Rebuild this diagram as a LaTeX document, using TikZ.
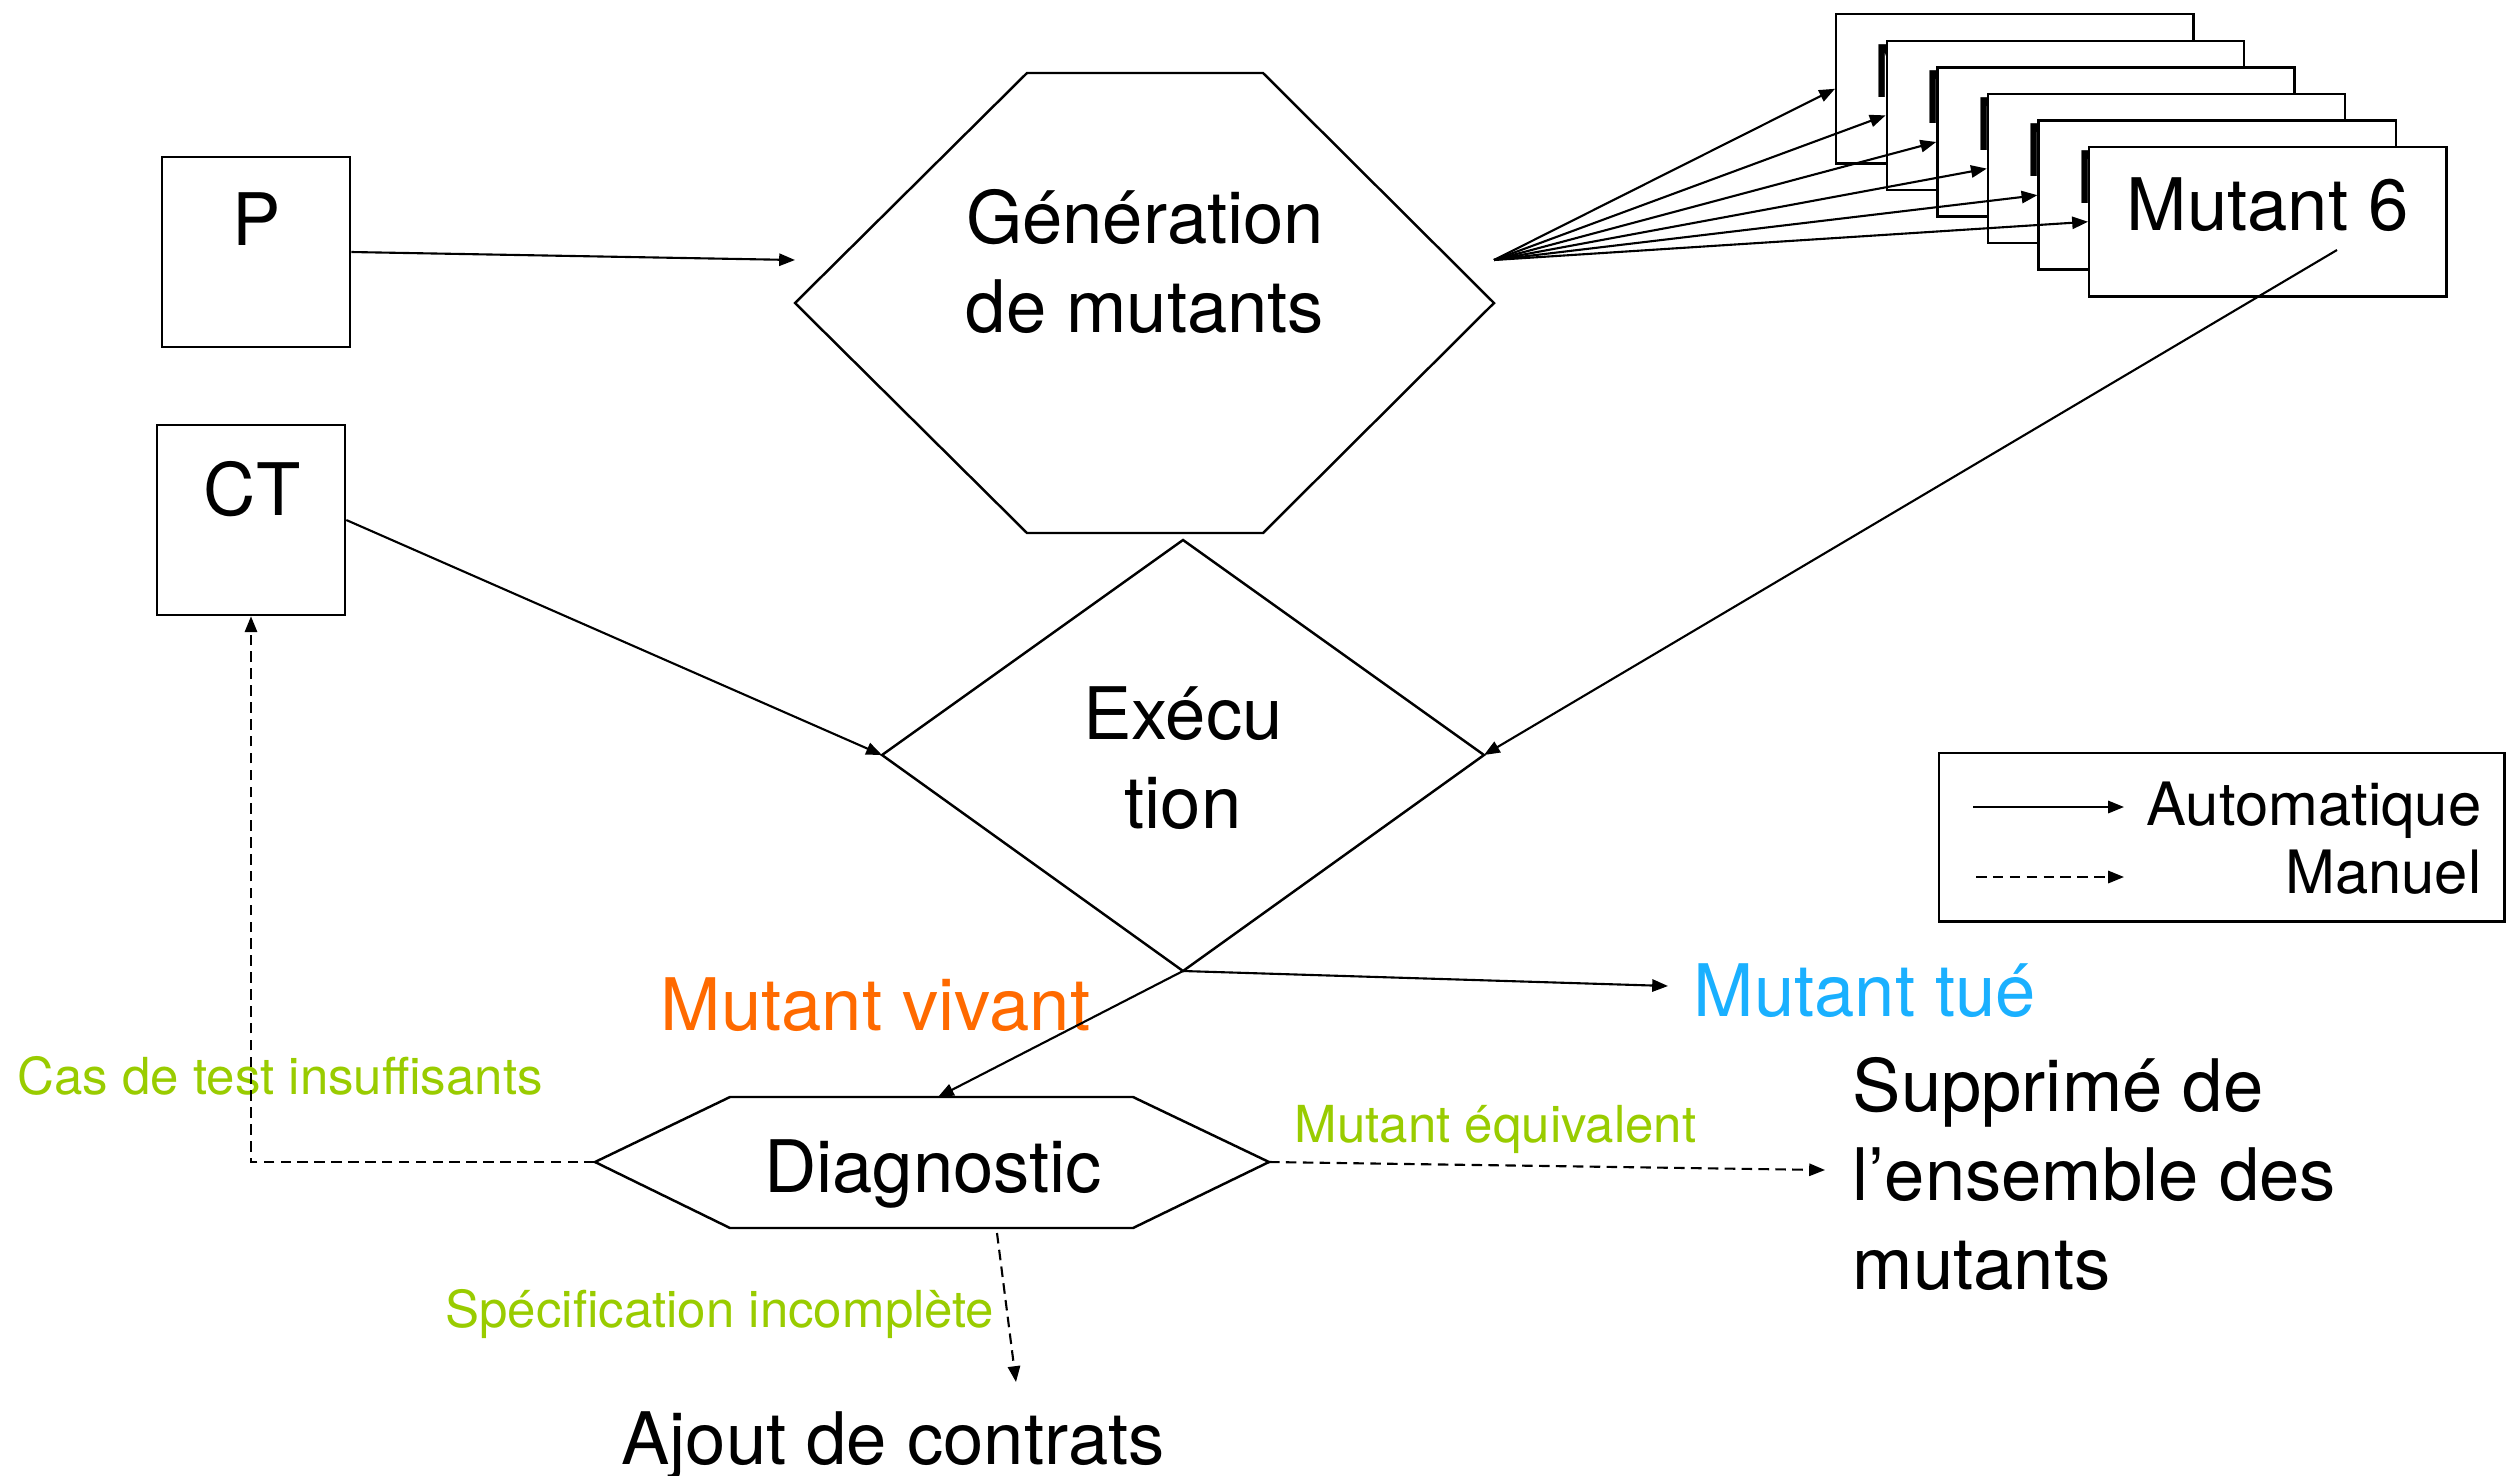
\documentclass[tikz,border=0pt]{standalone}
\usepackage{fontspec}
\setmainfont{TeX Gyre Heros}
\usetikzlibrary{arrows.meta}
\definecolor{vivant}{HTML}{FF6A00}
\definecolor{tue}{HTML}{1AB0FF}
\definecolor{diag}{HTML}{99CC00}

\begin{document}
\begin{tikzpicture}[x=0.01cm,y=-0.01cm,
  box/.style={draw,line width=0.7pt,fill=white,inner sep=0pt},
  lbl/.style={inner sep=0pt,font=\fontsize{20.6}{25.3}\selectfont},
  small/.style={inner sep=0pt,font=\fontsize{14.5}{17}\selectfont,text=diag},
  leg/.style={inner sep=0pt,font=\fontsize{17}{20}\selectfont},
  autoarrow/.style={line width=0.6pt,-{Triangle[length=4.5pt,width=3.5pt]}},
  manarrow/.style={autoarrow,dash pattern=on 3pt off 1.8pt},
  outline/.style={draw,line width=0.7pt}]

\useasboundingbox (0,0) rectangle (2517,1475);

% Inputs
\node[box,minimum width=1.88cm,minimum height=1.90cm] (p) at (256,252) {};
\node[lbl,anchor=base] (ptext) at (257,245) {P};
\node[box,minimum width=1.88cm,minimum height=1.90cm] (ct) at (251,520) {};
\node[lbl,anchor=base] (cttext) at (252,515) {CT};

% Generation hexagon
\coordinate (g1) at (795,303);
\coordinate (g2) at (1027,73);
\coordinate (g3) at (1263,73);
\coordinate (g4) at (1494,303);
\coordinate (g5) at (1263,533);
\coordinate (g6) at (1027,533);
\draw[outline] (g1) -- (g2) -- (g3) -- (g4) -- (g5) -- (g6) -- cycle;
\node[lbl,align=center,anchor=base] (gen) at (1145,332) {Génération\\de mutants};
\coordinate (genin) at (795,260);
\coordinate (genout) at (1494,260);

% Execution diamond
\coordinate (e1) at (1183,540);
\coordinate (e2) at (1484,755);
\coordinate (e3) at (1183,971);
\coordinate (e4) at (882,755);
\draw[outline] (e1) -- (e2) -- (e3) -- (e4) -- cycle;
\node[lbl,align=center,anchor=base] (exec) at (1183,828) {Exécu\\tion};

% Diagnostic hexagon
\coordinate (d1) at (595,1162);
\coordinate (d2) at (730,1097);
\coordinate (d3) at (1133,1097);
\coordinate (d4) at (1269,1162);
\coordinate (d5) at (1133,1228);
\coordinate (d6) at (730,1228);
\draw[outline] (d1) -- (d2) -- (d3) -- (d4) -- (d5) -- (d6) -- cycle;
\node[lbl,anchor=base] (diagtext) at (933,1192) {Diagnostic};
\coordinate (dtop) at (938,1097);
\coordinate (dbot) at (997,1233);

% Mutants
\foreach \i in {1,...,6} {
  \pgfmathsetmacro\mx{1835+(\i-1)*50.6}
  \pgfmathsetmacro\my{13+(\i-1)*26.6}
  \node[box,minimum width=3.57cm,minimum height=1.49cm,anchor=north west] (m\i) at (\mx,\my) {};
  \node[lbl,anchor=base] (mt\i) at ([yshift=-0.84cm]m\i.north) {Mutant \i};
}
\foreach \i in {1,...,6}
  \draw[autoarrow] (genout) -- (m\i.west);
\coordinate (m6src) at (2337,250);

% Results
\node[lbl,anchor=base east,text=vivant] (vivant) at (1091,1030) {Mutant vivant};
\node[lbl,anchor=base west,text=tue] (tue) at (1693,1016) {Mutant tué};
\coordinate (tuein) at (1668,986);
\node[lbl,align=left,anchor=base west] (suppr) at (1852,1289) {Supprimé de\\l’ensemble des\\mutants};
\coordinate (supprin) at (1825,1170);
\node[lbl,anchor=base] (ajout) at (893,1464) {Ajout de contrats};
\coordinate (ajoutin) at (1016,1382);

% Diagnostic labels
\node[small,anchor=base west] (insuff) at (17,1094) {Cas de test insuffisants};
\node[small,anchor=base west] (equiv) at (1294,1142) {Mutant équivalent};
\node[small,anchor=base east] (incompl) at (995,1327) {Spécification incomplète};

% Connectors
\draw[autoarrow] (p.east) -- (genin);
\draw[autoarrow] (ct.east) -- (e4);
\draw[autoarrow] (m6src) -- (e2);
\draw[autoarrow] (e3) -- (tuein);
\draw[autoarrow] (e3) -- (dtop);
\draw[manarrow] (d1) -| (ct.south);
\draw[manarrow] (d4) -- (supprin);
\draw[manarrow] (dbot) -- (ajoutin);

% Legend
\node[box,minimum width=5.65cm,minimum height=1.68cm,anchor=north west] (legend) at (1938,752) {};
\coordinate (la1) at (1973,807);
\coordinate (la2) at (2124,807);
\coordinate (lm1) at (1976,877);
\coordinate (lm2) at (2124,877);
\draw[autoarrow] (la1) -- (la2);
\draw[manarrow] (lm1) -- (lm2);
\node[leg,anchor=base east] (legauto) at (2482,825) {Automatique};
\node[leg,anchor=base east] (legman) at (2482,893) {Manuel};
\end{tikzpicture}
\end{document}
